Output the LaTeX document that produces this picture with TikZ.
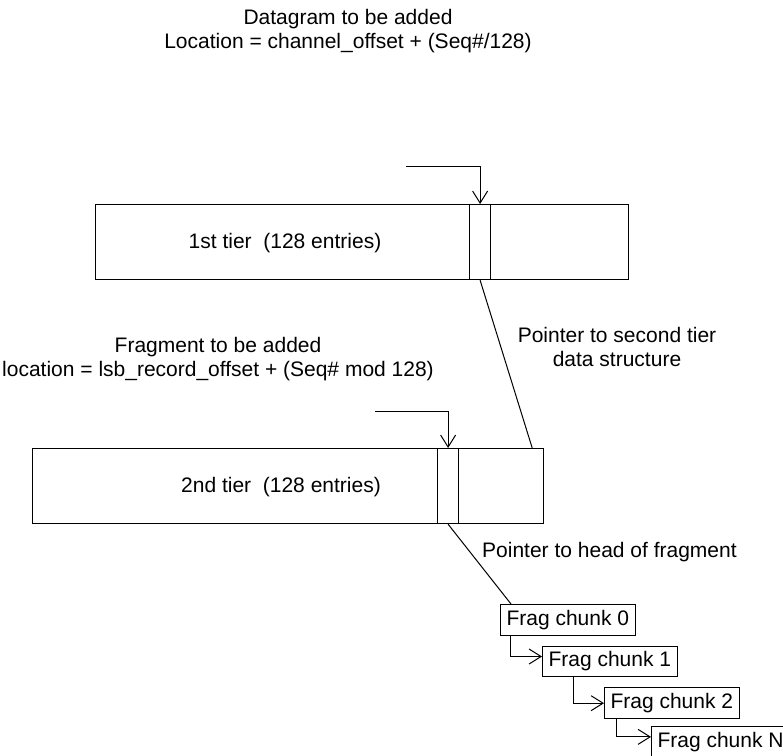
\documentclass[tikz,border=0pt]{standalone}
\usepackage{fontspec}
\setmainfont{Liberation Sans}
\usetikzlibrary{positioning,arrows.meta,calc}

\begin{document}
\begin{tikzpicture}[
    x=1pt, y=-1pt,
    txt/.style={font=\fontsize{21}{24}\selectfont, align=center, inner sep=0pt},
    tier/.style={rectangle, draw, line width=1.2pt, minimum height=75pt, anchor=north west, inner sep=0pt},
    slot/.style={rectangle, draw, line width=1.2pt, minimum width=21pt, minimum height=75pt, anchor=north west, inner sep=0pt},
    chunk/.style={rectangle, draw, line width=1.1pt, anchor=north west, font=\fontsize{21}{24}\selectfont, inner xsep=6pt, inner ysep=5.5pt},
    arrow/.style={-{Straight Barb[length=12pt,width=15pt]}, line width=1pt},
    pointer/.style={line width=1pt}
]
    \useasboundingbox (0,0) rectangle (783,755);

    % Heading
    \node[txt] (head) at (348,31) {Datagram to be added\\Location = channel\_offset + (Seq\#/128)};

    % Tiers
    \node[tier, minimum width=533pt] (tier1) at (95,204) {};
    \node[slot] (slot1) at (469,204) {};
    \node[txt] (tier1text) at (285,243) {1st tier\ \ (128 entries)};

    \node[tier, minimum width=511pt] (tier2) at (32,448) {};
    \node[slot] (slot2) at (437,448) {};
    \node[txt] (tier2text) at (281,487) {2nd tier\ \ (128 entries)};

    % Labels
    \node[txt] (fraglabel) at (218,359) {Fragment to be added\\location = lsb\_record\_offset + (Seq\# mod 128)};
    \node[txt] (ptrlabel) at (617,347) {Pointer to second tier\\data structure};
    \node[txt, anchor=west] (headlabel) at (482,552) {Pointer to head of fragment};

    % Fragment chunks
    \node[chunk] (c0) at (500,604) {Frag chunk 0};
    \node[chunk] (c1) at ([xshift=42pt, yshift=-10pt]c0.south west) {Frag chunk 1};
    \node[chunk] (c2) at ([xshift=62pt, yshift=-10pt]c1.south west) {Frag chunk 2};
    \node[chunk] (cN) at ([xshift=47pt, yshift=-7pt]c2.south west) {Frag chunk N};

    % Edges
    \coordinate (in1) at (406,166);
    \coordinate (in2) at (375,411);
    \draw[arrow] (in1) -| (slot1.north);
    \draw[arrow] (in2) -| (slot2.north);
    \draw[pointer] (slot1.south) -- ([xshift=-12pt]tier2.north east);
    \draw[pointer] (slot2.south) -- ([xshift=11pt]c0.north west);
    \draw[arrow] ([xshift=10pt]c0.south west) |- ([yshift=5pt]c1.west);
    \draw[arrow] ([xshift=31pt]c1.south west) |- (c2.west);
    \draw[arrow] ([xshift=12pt]c2.south west) |- ([yshift=5pt]cN.west);
\end{tikzpicture}
\end{document}
